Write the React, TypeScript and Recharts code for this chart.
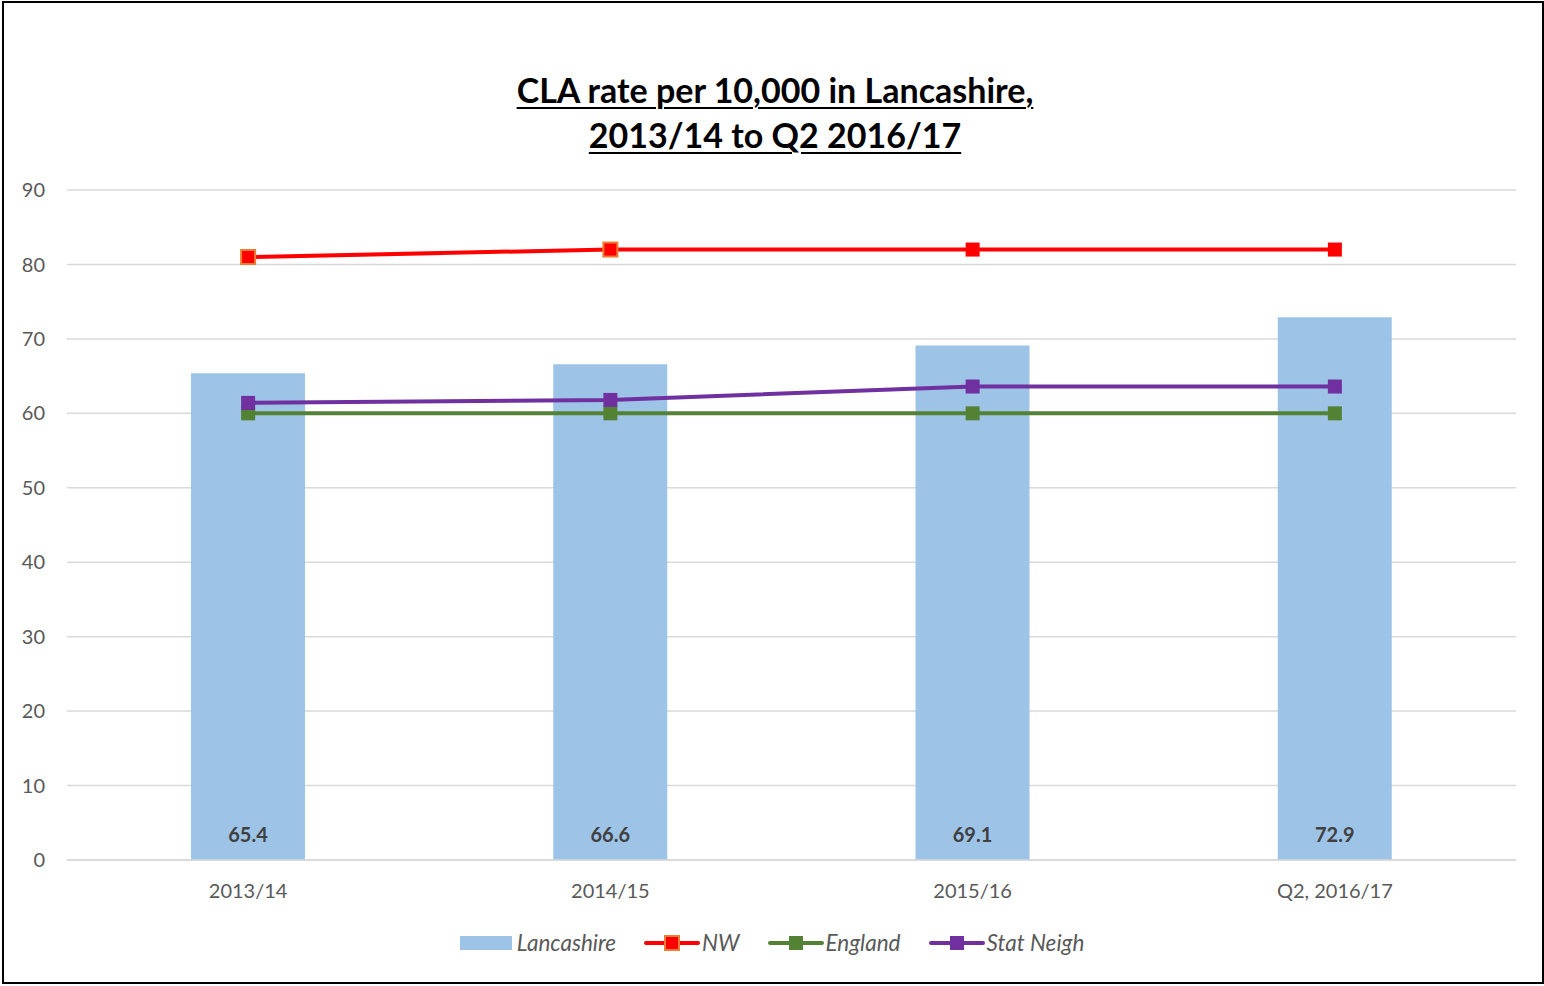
import React from "react"
import { Bar, ComposedChart, CartesianGrid, LabelList, Legend, Line, XAxis, YAxis } from "recharts"

const categories = ["2013/14", "2014/15", "2015/16", "Q2, 2016/17"]
const lancashire = [65.4, 66.6, 69.1, 72.9]
const nw = [81, 82, 82, 82]
const england = [60, 60, 60, 60]
const statNeigh = [61.4, 61.8, 63.6, 63.6]
const yTicks = [0, 10, 20, 30, 40, 50, 60, 70, 80, 90]

const data = categories.map((name, i) => ({
  name,
  lancashire: lancashire[i],
  nw: nw[i],
  england: england[i],
  statNeigh: statNeigh[i],
}))

const FONT = "Lato, 'Open Sans', sans-serif"

const squareDot = (fill: string, strokeFor?: (i: number) => string) => (props: any) => {
  const { cx, cy, index } = props
  if (cx == null || cy == null) return <g key={index} />
  const s = 14
  const stroke = strokeFor ? strokeFor(index) : fill
  return (
    <rect
      key={index}
      x={cx - s / 2}
      y={cy - s / 2}
      width={s}
      height={s}
      fill={fill}
      stroke={stroke}
      strokeWidth={stroke === fill ? 0 : 2}
    />
  )
}

const BarValue = (props: any) => {
  const { x, y, width, height, value } = props
  return (
    <text
      x={x + width / 2}
      y={y + height - 18}
      textAnchor="middle"
      fontFamily={FONT}
      fontWeight={700}
      fontSize={20}
      fill="#404040"
    >
      {value.toFixed(1)}
    </text>
  )
}

const legendItems = [
  { label: "Lancashire", color: "#9DC3E6", kind: "bar" },
  { label: "NW", color: "#FF0000", kind: "line", border: "#ED7D31" },
  { label: "England", color: "#548235", kind: "line" },
  { label: "Stat Neigh", color: "#7030A0", kind: "line" },
]

const LegendContent = () => (
  <div style={{ display: "flex", justifyContent: "center", alignItems: "center", gap: 28, fontFamily: FONT }}>
    {legendItems.map((it) => (
      <div key={it.label} style={{ display: "flex", alignItems: "center" }}>
        {it.kind === "bar" ? (
          <svg width={52} height={16} style={{ marginRight: 5 }}>
            <rect x={0} y={1} width={52} height={14} fill={it.color} />
          </svg>
        ) : (
          <svg width={56} height={18} style={{ marginRight: 2 }}>
            <line x1={2} y1={9} x2={54} y2={9} stroke={it.color} strokeWidth={4} strokeLinecap="round" />
            <rect
              x={21}
              y={2}
              width={14}
              height={14}
              fill={it.color}
              stroke={it.border ?? it.color}
              strokeWidth={it.border ? 2 : 0}
            />
          </svg>
        )}
        <span style={{ fontStyle: "italic", fontSize: 22.5, color: "#595959" }}>{it.label}</span>
      </div>
    ))}
  </div>
)

export default function App() {
  return (
    <div style={{ position: "absolute", left: 0, top: 0, width: 1544, height: 986, background: "#fff" }}>
      <div
        style={{
          position: "absolute",
          left: 2,
          top: 1,
          width: 1538,
          height: 979,
          border: "2px solid #000",
        }}
      />
      <div
        style={{
          position: "absolute",
          left: 0,
          top: 67,
          width: 1550,
          textAlign: "center",
          fontFamily: FONT,
          fontWeight: 700,
          fontSize: 34,
          lineHeight: "45px",
          color: "#000",
          textDecoration: "underline",
          textDecorationThickness: 2,
          textUnderlineOffset: 4,
        }}
      >
        CLA rate per 10,000 in Lancashire,
        <br />
        2013/14 to Q2 2016/17
      </div>
      <div style={{ position: "absolute", left: 0, top: 0 }}>
        <ComposedChart width={1544} height={986} data={data} margin={{ top: 190, right: 28, left: 0, bottom: 0 }}>
          <CartesianGrid vertical={false} stroke="#D9D9D9" strokeWidth={1.5} />
          <XAxis
            dataKey="name"
            height={126}
            tickLine={false}
            axisLine={{ stroke: "#D9D9D9", strokeWidth: 1.5 }}
            tickMargin={18}
            tick={{ fontSize: 20, fill: "#595959", fontFamily: FONT }}
          />
          <YAxis
            width={67}
            domain={[0, 90]}
            ticks={yTicks}
            interval={0}
            axisLine={false}
            tickLine={false}
            tickSize={0}
            tickMargin={22}
            tick={{ fontSize: 20, fill: "#595959", fontFamily: FONT }}
          />
          <Legend verticalAlign="middle" wrapperStyle={{ top: 929, left: 0, width: 1544 }} content={<LegendContent />} />
          <Bar dataKey="lancashire" name="Lancashire" fill="#9DC3E6" barSize={114} isAnimationActive={false}>
            <LabelList dataKey="lancashire" content={<BarValue />} />
          </Bar>
          <Line
            dataKey="nw"
            name="NW"
            stroke="#FF0000"
            strokeWidth={4}
            dot={squareDot("#FF0000", (i) => (i < 2 ? "#ED7D31" : "#FF0000"))}
            isAnimationActive={false}
          />
          <Line
            dataKey="england"
            name="England"
            stroke="#548235"
            strokeWidth={4}
            dot={squareDot("#548235")}
            isAnimationActive={false}
          />
          <Line
            dataKey="statNeigh"
            name="Stat Neigh"
            stroke="#7030A0"
            strokeWidth={4}
            dot={squareDot("#7030A0")}
            isAnimationActive={false}
          />
        </ComposedChart>
      </div>
    </div>
  )
}
